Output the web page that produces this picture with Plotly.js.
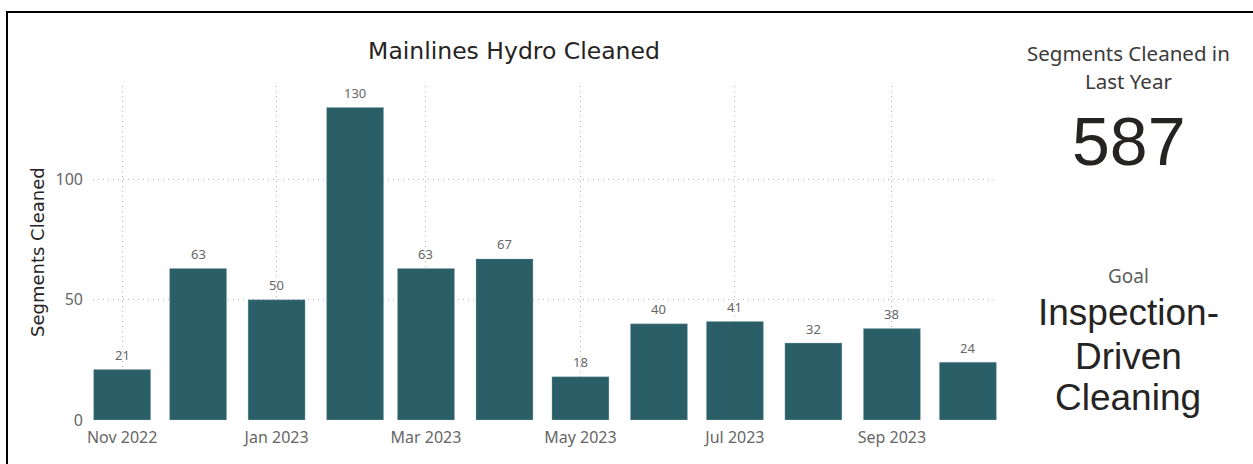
<!DOCTYPE html>
<html>
<head>
<meta charset="utf-8">
<script src="https://cdn.plot.ly/plotly-3.0.1.min.js"></script>
<style>
  html, body { margin: 0; padding: 0; background: #ffffff; }
  #chart { width: 1253px; height: 464px; }
</style>
</head>
<body>
<div id="chart"></div>
<script>
// ---- data ----
const months = ['2022-11-01','2022-12-01','2023-01-01','2023-02-01','2023-03-01','2023-04-01',
                '2023-05-01','2023-06-01','2023-07-01','2023-08-01','2023-09-01','2023-10-01'];
const segmentsCleaned = [21, 63, 50, 130, 63, 67, 18, 40, 41, 32, 38, 24];
const tickDates = ['2022-11-01','2023-01-01','2023-03-01','2023-05-01','2023-07-01','2023-09-01'];
const tickLabels = ['Nov 2022','Jan 2023','Mar 2023','May 2023','Jul 2023','Sep 2023'];
const yTicks = [0, 50, 100];
const chartTitle = 'Mainlines Hydro Cleaned';
const yTitle = 'Segments Cleaned';
const kpiLabel = ['Segments Cleaned in', 'Last Year'];
const kpiValue = '587';
const goalLabel = 'Goal';
const goalText = ['Inspection-', 'Driven', 'Cleaning'];

// ---- styles ----
const barColor = '#2B5F68';
const gridColor = '#B8B6B4';
const tickColor = '#666666';
const darkText = '#252423';

const W = 1253, H = 464;
const L = 93, R = 997, T = 86, B = 420;
const px = x => (x - L) / (R - L);
const py = y => (B - y) / (B - T);

const trace = {
  type: 'bar',
  x: months,
  y: segmentsCleaned,
  width: 22.5 * 86400000,
  marker: { color: barColor, line: { color: 'rgba(150,180,185,0.6)', width: 0.6 } },
  hoverinfo: 'skip'
};

const annotations = [];
// data labels
months.forEach((m, i) => {
  annotations.push({
    x: m, y: segmentsCleaned[i], xref: 'x', yref: 'y',
    text: String(segmentsCleaned[i]), showarrow: false,
    xanchor: 'center', yanchor: 'middle', yshift: 14.5,
    font: { family: 'Segoe UI, Noto Sans, sans-serif', size: 13, color: tickColor }
  });
});
// y axis title
annotations.push({
  xref: 'paper', yref: 'paper', x: px(37), y: py(252),
  text: yTitle, textangle: -90, showarrow: false,
  xanchor: 'center', yanchor: 'middle',
  font: { family: 'DejaVu Sans, sans-serif', size: 18, color: darkText }
});
// KPI
const cx = px(1128);
annotations.push({ xref:'paper', yref:'paper', x: cx, y: py(53), text: kpiLabel[0], showarrow:false,
  xanchor:'center', yanchor:'middle', font:{ family:'Segoe UI, Noto Sans, sans-serif', size:20.5, color:'#3b3a39' } });
annotations.push({ xref:'paper', yref:'paper', x: cx, y: py(81), text: kpiLabel[1], showarrow:false,
  xanchor:'center', yanchor:'middle', font:{ family:'Segoe UI, Noto Sans, sans-serif', size:20.5, color:'#3b3a39' } });
annotations.push({ xref:'paper', yref:'paper', x: cx, y: py(141), text: kpiValue, showarrow:false,
  xanchor:'center', yanchor:'middle', font:{ family:'Liberation Sans, Arial, sans-serif', size:68, color:darkText } });
annotations.push({ xref:'paper', yref:'paper', x: cx, y: py(276), text: goalLabel, showarrow:false,
  xanchor:'center', yanchor:'middle', font:{ family:'Segoe UI, Noto Sans, sans-serif', size:19, color:'#605E5C' } });
const goalY = [312, 356, 397];
goalText.forEach((t, i) => {
  annotations.push({ xref:'paper', yref:'paper', x: cx, y: py(goalY[i]), text: t, showarrow:false,
    xanchor:'center', yanchor:'middle', font:{ family:'Liberation Sans, Arial, sans-serif', size:37, color:darkText } });
});

const layout = {
  width: W, height: H,
  margin: { l: L, r: W - R, t: T, b: H - B, pad: 0 },
  paper_bgcolor: '#ffffff', plot_bgcolor: '#ffffff',
  showlegend: false,
  hovermode: false,
  title: {
    text: chartTitle,
    x: 514 / W, xref: 'container', xanchor: 'center',
    y: 1 - 51 / H, yref: 'container', yanchor: 'middle',
    font: { family: 'DejaVu Sans, sans-serif', size: 23.5, color: darkText }
  },
  xaxis: {
    type: 'date',
    range: ['2022-10-20 12:00', '2023-10-12 12:00'],
    tickvals: tickDates, ticktext: tickLabels,
    showgrid: true, gridcolor: gridColor, griddash: '1px,4px', gridwidth: 1,
    zeroline: false, showline: false, ticks: '',
    ticklabelstandoff: 6,
    tickfont: { family: 'Segoe UI, Noto Sans, sans-serif', size: 16, color: tickColor }
  },
  yaxis: {
    range: [0, 138.9],
    tickvals: yTicks,
    showgrid: true, gridcolor: gridColor, griddash: '1px,4px', gridwidth: 1,
    zeroline: false, showline: false, ticks: '',
    ticklabelstandoff: 9,
    tickfont: { family: 'Segoe UI, Noto Sans, sans-serif', size: 16, color: tickColor }
  },
  annotations: annotations,
  shapes: [
    { type:'line', xref:'paper', yref:'paper', x0: px(7), x1: px(1260), y0: py(12), y1: py(12),
      line:{ color:'#000000', width:2 } },
    { type:'line', xref:'paper', yref:'paper', x0: px(7), x1: px(7), y0: py(11), y1: py(470),
      line:{ color:'#000000', width:2 } }
  ]
};

Plotly.newPlot('chart', [trace], layout, { displayModeBar: false, staticPlot: true });
</script>
</body>
</html>
